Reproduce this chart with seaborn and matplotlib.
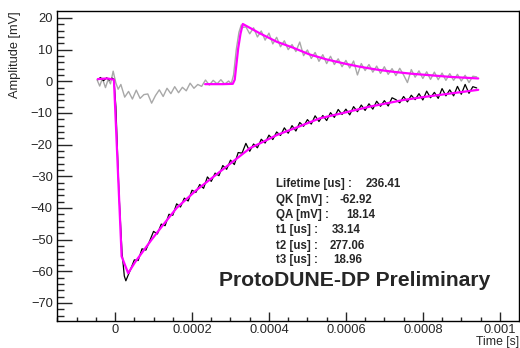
import matplotlib
matplotlib.use("Agg")
import matplotlib.pyplot as plt
import seaborn as sns
import numpy as np

# --- data (times in microseconds, amplitudes in mV) ---
black_t = [-45, -38, -30, -22, -15, -8, -3, 2, 10, 18, 24, 28, 33, 40] + list(range(50, 950, 10))
black_v = [0.5, 1.2, 0.2, 1.1, 0.4, 1.0, 0.6, -8.0, -35.0, -54.0, -61.5, -63.0, -61.5, -59.5,
           -56.4, -56.6, -52.9, -53.3, -50.4, -47.4, -48.2, -45.1, -45.6, -42.0,
           -42.3, -38.7, -39.7, -36.9, -37.8, -34.4, -35.1, -32.6, -33.8, -30.2,
           -31.6, -29.0, -29.8, -26.6, -27.8, -24.9, -26.3, -22.5, -22.7, -19.6,
           -22.1, -19.8, -21.0, -18.3, -19.5, -17.0, -18.4, -16.0, -17.1, -14.7,
           -16.4, -14.0, -15.7, -13.0, -14.2, -12.1, -13.5, -10.9, -12.7, -10.8,
           -12.4, -9.9, -11.4, -8.9, -10.5, -8.8, -10.6, -8.0, -9.6, -7.5,
           -9.2, -7.1, -8.8, -6.3, -7.9, -6.1, -7.8, -5.2, -5.8, -6.8,
           -4.8, -6.5, -4.4, -5.8, -3.9, -5.9, -3.1, -5.2, -3.5, -5.4,
           -2.3, -4.6, -2.7, -4.6, -1.6, -4.1, -1.0, -3.8, -1.7, -2.1]

gray_t = [-47, -40, -33, -25, -18, -12, -5, 2, 8, 15] + list(range(25, 300, 10)) \
    + [302, 308, 315, 322, 328, 333] + list(range(340, 950, 10))
gray_v = [0.5, -1.5, 0.9, -2.0, 0.6, -0.8, 3.2, -0.5, -2.5, -1.0,
          -5.0, -3.2, -5.6, -2.8, -5.4, -4.2, -4.0, -6.9, -4.5, -2.7,
          -4.8, -2.2, -3.9, -1.7, -3.6, -1.9, -3.0, -0.6, -2.2, -1.0,
          -1.6, 0.4, -1.2, 0.3, -0.8, 0.5, -0.9, 0.1,
          -0.7, 2.0, 10.0, 15.5, 17.8, 17.0,
          17.2, 15.0, 16.9, 14.0, 15.9, 13.0, 15.2, 11.8, 13.9, 10.9,
          12.8, 10.0, 11.6, 9.4, 12.4, 8.1, 9.9, 7.2, 9.1, 6.3,
          8.4, 5.6, 7.9, 5.3, 7.1, 4.6, 6.6, 4.2, 6.4, 2.0,
          5.6, 3.4, 5.3, 2.9, 4.8, 2.5, 4.6, 2.2, 4.0, 1.8,
          4.1, 2.0, -0.4, 3.7, 1.3, 3.3, 0.9, 3.0, 0.6, 2.9,
          0.5, 2.6, 0.3, 2.4, 0.3, 2.2, 0.1, 1.9, -0.4, 1.6,
          1.4]

kfit_t = [-45, -20, -3, 17, 34, 52, 95, 120, 160, 212, 250, 273, 310, 351, 380, 420,
          480, 532, 600, 662, 700, 750, 800, 850, 900, 944]
kfit_v = [0.7, 0.9, 0.5, -55.3, -60.6, -57.1, -50.0, -46.1, -40.0, -34.3, -30.7, -28.5,
          -25.0, -21.1, -19.4, -17.0, -14.2, -11.7, -9.8, -8.0, -7.1, -5.9, -5.0, -4.2,
          -3.4, -2.7]

afit_t = [234, 280, 306, 311, 316, 320, 326, 332, 350, 377, 420, 463, 505, 550, 600,
          636, 680, 723, 770, 810, 870, 944]
afit_v = [-0.9, -0.9, -0.8, 0.5, 6.0, 10.4, 15.0, 18.1, 16.9, 15.1, 12.5, 10.6, 8.5,
          6.9, 5.5, 4.6, 3.7, 3.0, 2.4, 2.0, 1.4, 0.9]

stat_names = ["Lifetime [us] :", "QK [mV] :", "QA [mV] :", "t1 [us] :", "t2 [us] :", "t3 [us] :"]
stat_values = ["236.41", "-62.92", "18.14", "33.14", "277.06", "18.96"]

xticks = [0, 0.0002, 0.0004, 0.0006, 0.0008, 0.001]
xtick_labels = ["0", "0.0002", "0.0004", "0.0006", "0.0008", "0.001"]
yticks = [-70, -60, -50, -40, -30, -20, -10, 0, 10, 20]

# --- style ---
sns.set_style("ticks")
plt.rcParams['font.family'] = ['Liberation Sans', 'DejaVu Sans']

W, H = 520, 348
fig = plt.figure(figsize=(W / 100, H / 100), dpi=100)
ax = fig.add_axes([57 / W, 1 - 321 / H, (519 - 57) / W, (321 - 11) / H])

us = 1e-6
sns.lineplot(x=np.array(gray_t) * us, y=gray_v, color="#a8a8a8", lw=1.0, ax=ax,
             estimator=None, sort=False)
sns.lineplot(x=np.array(black_t) * us, y=black_v, color="black", lw=0.9, ax=ax,
             estimator=None, sort=False)
sns.lineplot(x=np.array(kfit_t) * us, y=kfit_v, color="#ff00ff", lw=1.6, ax=ax,
             estimator=None, sort=False)
sns.lineplot(x=np.array(afit_t) * us, y=afit_v, color="#ff00ff", lw=1.6, ax=ax,
             estimator=None, sort=False)

ax.set_xlim(-0.000151, 0.00105)
ax.set_ylim(-75.7, 22.2)

ax.set_xticks(xticks)
ax.set_xticklabels(xtick_labels)
ax.set_xticks(np.arange(-0.00015, 0.00105, 0.00005), minor=True)
ax.set_yticks(yticks)
ax.set_yticks(np.arange(-74, 22, 2), minor=True)

ax.tick_params(axis="x", which="major", direction="in", length=6.5, width=1, labelsize=9.3, pad=2)
ax.tick_params(axis="x", which="minor", direction="in", length=3.2, width=1)
ax.tick_params(axis="y", which="major", direction="in", length=10.8, width=1, labelsize=9.3, pad=3)
ax.tick_params(axis="y", which="minor", direction="in", length=5, width=1)

for s in ax.spines.values():
    s.set_visible(True)
    s.set_color("black")
    s.set_linewidth(1)

ax.set_ylabel("Amplitude [mV]", fontsize=9.2, loc="top")
ax.yaxis.set_label_coords(-0.078, 1.0)
ax.set_xlabel("Time [s]", fontsize=8.8, loc="right")
ax.xaxis.set_label_coords(1.0, -0.05)

# stats text
line_y = [184, 200, 215, 230, 246, 260]
value_x = [366, 339, 346, 332, 330, 333]
for name, val, yy, xx in zip(stat_names, stat_values, line_y, value_x):
    fig.text(276 / W, 1 - yy / H, name, fontsize=8.3, fontweight="bold", ha="left", va="center")
    fig.text(xx / W, 1 - yy / H, val, fontsize=8.3, fontweight="bold", ha="left", va="center")

fig.text(219 / W, 1 - 281 / H, "ProtoDUNE-DP Preliminary", fontsize=15.2, fontweight="bold",
         ha="left", va="center")

fig.savefig("out.png", dpi=100)
